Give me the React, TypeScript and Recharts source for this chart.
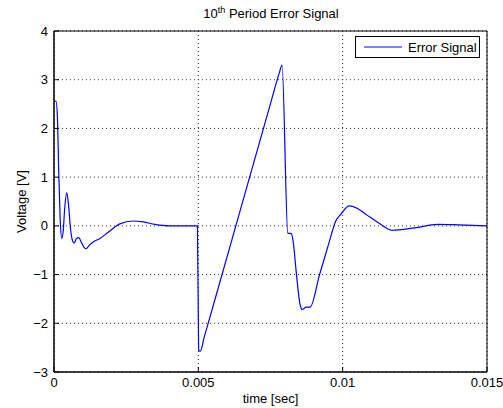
import {
  LineChart,
  Line,
  XAxis,
  YAxis,
  CartesianGrid,
  Legend,
  ReferenceArea,
} from "recharts";

const TIMES = [
  0, 0.00007, 0.00012, 0.00016, 0.00021, 0.00027, 0.00032, 0.00037, 0.00044,
  0.0005, 0.00057, 0.00064, 0.0007, 0.00078, 0.00086, 0.00094, 0.0011,
  0.00125, 0.00136, 0.00159, 0.0019, 0.00228, 0.00274, 0.0031, 0.0035, 0.004,
  0.00497, 0.00501, 0.00507, 0.0052, 0.0055, 0.0065, 0.0075, 0.0078, 0.0079,
  0.0081, 0.00822, 0.00828, 0.0084, 0.00852, 0.0086, 0.00873, 0.00887,
  0.0092, 0.0095, 0.00977, 0.00994, 0.01023, 0.0105, 0.0108, 0.0113, 0.0117,
  0.0125, 0.0133, 0.014, 0.015,
];

const ERROR_SIGNAL = [
  2.55, 2.56, 2.2, 1.2, 0.2, -0.26, -0.1, 0.35, 0.68, 0.45, -0.05, -0.3,
  -0.35, -0.26, -0.24, -0.33, -0.47, -0.38, -0.33, -0.26, -0.12, 0.04, 0.1,
  0.08, 0.03, 0.0, 0.0, -2.55, -2.57, -2.29, -1.67, 0.42, 2.51, 3.13, 3.3,
  -0.15, -0.16, -0.3, -1.0, -1.6, -1.72, -1.67, -1.67, -1.0, -0.4, 0.11,
  0.24, 0.41, 0.36, 0.24, 0.04, -0.09, -0.04, 0.03, 0.02, 0.0,
];

const X_TICKS = [0, 0.005, 0.01, 0.015];
const Y_TICKS = [-3, -2, -1, 0, 1, 2, 3, 4];

const FONT = "'Liberation Sans', Arial, sans-serif";

const data = TIMES.map((t, i) => ({ t, v: ERROR_SIGNAL[i] }));

const fmt = (v: number) => String(v).replace("-", "\u2212");
const blank = () => "";

const tickStyle = { fill: "#000", fontSize: 13, fontFamily: FONT };

function LegendBox() {
  return (
    <div
      style={{
        border: "1px solid #000",
        background: "#fff",
        width: 125,
        height: 22,
        display: "flex",
        alignItems: "center",
        fontFamily: FONT,
        fontSize: 13,
        color: "#000",
        boxSizing: "border-box",
      }}
    >
      <svg width={46} height={10} style={{ marginLeft: 6 }}>
        <line x1={2} y1={5} x2={40} y2={5} stroke="#0000ff" strokeWidth={1.2} />
      </svg>
      <span>Error Signal</span>
    </div>
  );
}

export default function App() {
  return (
    <div
      style={{
        position: "absolute",
        left: 0,
        top: 0,
        width: 503,
        height: 408,
        background: "#fff",
        fontFamily: FONT,
      }}
    >
      <style>
        {"html, body { margin: 0; overflow: hidden; } .recharts-surface { overflow: visible; }"}
      </style>
      <div
        style={{
          position: "absolute",
          top: 5,
          left: 54,
          width: 434,
          textAlign: "center",
          fontSize: 13,
          color: "#000",
        }}
      >
        10<sup style={{ fontSize: 9 }}>th</sup> Period Error Signal
      </div>
      <LineChart
        width={503}
        height={408}
        data={data}
        margin={{ top: 31, right: 16, bottom: 0, left: 0 }}
      >
        <CartesianGrid stroke="#333" strokeDasharray="1 3" />
        <XAxis
          dataKey="t"
          type="number"
          domain={[0, 0.015]}
          ticks={X_TICKS}
          tickFormatter={fmt}
          tickLine={{ stroke: "#000" }}
          tickSize={-5}
          tickMargin={11}
          height={36}
          axisLine={{ stroke: "#000" }}
          tick={tickStyle}
          label={{
            value: "time [sec]",
            position: "insideBottom",
            offset: 5,
            fill: "#000",
            fontSize: 13,
            fontFamily: FONT,
          }}
        />
        <XAxis
          xAxisId="top"
          orientation="top"
          dataKey="t"
          type="number"
          domain={[0, 0.015]}
          ticks={X_TICKS}
          tickFormatter={blank}
          tickLine={{ stroke: "#000" }}
          tickSize={-5}
          height={0}
          axisLine={{ stroke: "#000" }}
        />
        <YAxis
          type="number"
          domain={[-3, 4]}
          ticks={Y_TICKS}
          tickFormatter={fmt}
          tickLine={{ stroke: "#000" }}
          tickSize={-5}
          tickMargin={11}
          width={54}
          axisLine={{ stroke: "#000" }}
          tick={tickStyle}
          label={{
            value: "Voltage [V]",
            angle: -90,
            position: "insideLeft",
            offset: 21,
            fill: "#000",
            fontSize: 13,
            fontFamily: FONT,
            style: { textAnchor: "middle" },
          }}
        />
        <YAxis
          yAxisId="right"
          orientation="right"
          type="number"
          domain={[-3, 4]}
          ticks={Y_TICKS}
          tickFormatter={blank}
          tickLine={{ stroke: "#000" }}
          tickSize={-5}
          width={0}
          axisLine={{ stroke: "#000" }}
        />
        <ReferenceArea
          x1={0}
          x2={0.015}
          y1={-3}
          y2={4}
          fill="none"
          stroke="#000"
          strokeWidth={1}
        />
        <Legend
          layout="horizontal"
          verticalAlign="middle"
          align="center"
          content={() => <LegendBox />}
          wrapperStyle={{ top: 36, left: 355, width: 125 }}
        />
        <Line
          type="monotone"
          dataKey="v"
          stroke="#0000ff"
          strokeWidth={1.2}
          dot={false}
          isAnimationActive={false}
        />
      </LineChart>
    </div>
  );
}
